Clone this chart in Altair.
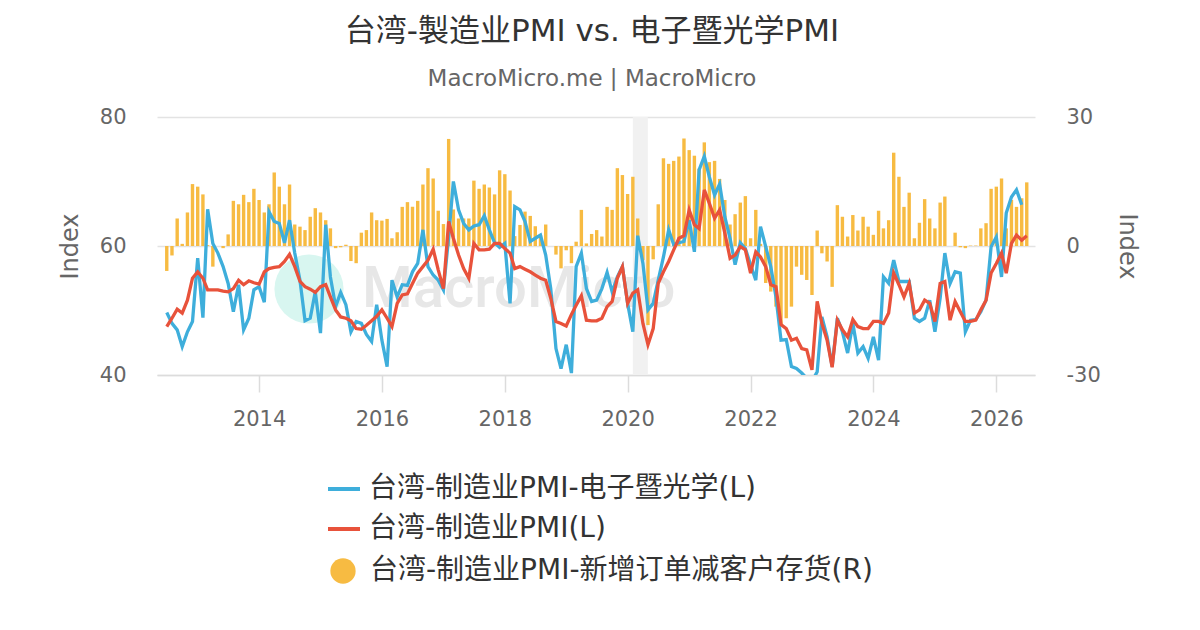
import altair as alt
import pandas as pd

# ---------------- data ----------------
start_month = "2012-07-01"
n_months = 169

electronics = [
    49.7, 48.0, 47.0, 44.4, 46.7, 48.3, 58.1, 48.9, 65.7, 60.4,
    58.9, 56.8, 54.2, 49.8, 54.0, 47.0, 48.8, 53.2, 53.7, 51.3,
    65.3, 63.8, 63.5, 60.5, 64.0, 58.9, 54.7, 48.4, 48.8, 52.9,
    46.5, 63.3, 55.2, 50.6, 52.8, 50.9, 46.7, 48.3, 48.0, 46.3,
    45.2, 50.9, 45.4, 41.3, 54.7, 52.1, 54.0, 53.9, 56.0, 57.3,
    62.5, 56.8, 55.5, 54.7, 53.2, 61.4, 70.0, 65.6, 63.5, 62.5,
    63.1, 63.3, 64.7, 62.5, 60.5, 59.8, 60.4, 51.1, 66.1, 65.6,
    63.8, 60.7, 61.2, 61.7, 58.6, 53.4, 44.1, 41.0, 44.7, 40.3,
    56.8, 58.9, 53.4, 51.4, 51.6, 53.4, 55.9, 52.9, 55.2, 56.8,
    51.1, 46.7, 61.6, 57.3, 50.1, 51.1, 54.7, 58.3, 62.5, 60.2,
    60.5, 60.7, 64.0, 59.1, 71.8, 73.9, 70.7, 67.9, 69.6, 64.5,
    61.2, 57.1, 60.5, 59.6, 57.1, 54.7, 63.0, 59.9, 56.8, 52.1,
    45.4, 45.5, 41.3, 41.0, 40.3, 39.5, 39.0, 40.5, 49.0, 45.9,
    41.3, 48.8, 46.7, 43.4, 48.0, 43.4, 44.4, 42.6, 45.9, 42.3,
    55.2, 54.2, 57.8, 54.5, 54.5, 54.5, 48.8, 48.3, 48.8, 51.6,
    46.7, 51.9, 58.9, 54.2, 56.0, 55.8, 46.7, 48.5, 48.6, 49.8,
    51.6, 59.9, 61.4, 55.2, 65.1, 67.6, 68.7, 66.4,
]

manufacturing = [
    47.5, 48.8, 50.2, 49.6, 51.6, 55.0, 56.0, 55.0, 53.2, 53.2,
    53.2, 53.0, 52.9, 53.4, 54.7, 54.0, 54.6, 54.3, 54.1, 56.0,
    56.5, 56.7, 56.8, 57.6, 58.7, 56.8, 54.5, 53.7, 53.3, 52.8,
    53.7, 54.0, 52.1, 50.1, 49.0, 48.8, 48.4, 47.2, 47.1, 47.7,
    48.4, 49.1, 50.1, 48.8, 47.5, 51.1, 52.4, 52.6, 54.2, 55.8,
    56.8, 57.8, 59.5, 56.3, 53.4, 63.8, 61.2, 58.6, 56.5, 55.0,
    60.4, 59.4, 59.4, 59.5, 60.4, 60.4, 59.6, 58.9, 56.5, 56.8,
    56.4, 56.0, 55.5, 55.0, 54.7, 51.9, 48.3, 48.0, 47.6, 49.4,
    50.8, 52.3, 48.5, 48.4, 48.4, 48.8, 50.6, 51.4, 55.0, 56.8,
    51.1, 52.7, 53.2, 48.0, 44.7, 47.2, 54.2, 56.0, 57.6, 59.4,
    61.2, 61.6, 65.6, 63.3, 62.7, 68.7, 66.6, 64.3, 65.6, 62.0,
    58.1, 58.6, 59.9, 59.4, 55.8, 59.1, 58.3, 56.8, 54.0, 53.7,
    47.8, 47.2, 45.4, 45.7, 44.1, 43.9, 40.8, 51.4, 48.0, 45.4,
    41.2, 48.5, 47.0, 45.9, 48.6, 47.5, 47.2, 47.2, 48.3, 48.3,
    48.0, 49.6, 55.8, 54.0, 52.1, 54.2, 49.6, 50.1, 51.6, 51.1,
    48.3, 54.2, 54.5, 48.5, 51.4, 49.8, 48.3, 48.3, 48.5, 50.1,
    51.6, 55.8, 57.3, 58.9, 55.8, 60.4, 61.7, 60.9, 61.6,
]

orders_minus_inventory = [
    -5.8, -2.2, 6.4, 0.5, 7.8, 14.4, 13.8, 12.0, 0.2, -4.8,
    0.0, -0.5, 2.7, 10.5, 9.7, 11.9, 10.2, 13.3, 10.7, 7.8,
    9.7, 17.1, 13.8, 9.7, 14.3, 5.0, 4.5, 3.7, 6.8, 8.8,
    7.8, 6.0, 4.1, -0.5, -0.3, 0.3, -3.5, -4.0, 3.1, 3.7,
    7.8, 6.0, 5.9, 6.3, 1.8, 3.2, 9.1, 10.2, 9.1, 10.5,
    14.3, 18.1, 15.7, 8.2, 5.1, 24.9, 8.5, 6.4, 6.4, 6.4,
    15.2, 13.3, 14.3, 13.6, 12.0, 17.6, 16.7, 12.9, 2.3, 4.9,
    8.0, 7.0, 4.6, 2.5, 5.0, 0.0, -2.0, -5.2, -1.0, -4.0,
    1.0, 8.4, 0.6, 2.8, 3.7, 2.2, 9.1, 8.4, 18.1, 16.5,
    12.1, 16.1, 6.4, -3.3, -18.4, -3.1, 9.7, 20.4, 19.1, 19.8,
    20.8, 25.0, 22.3, 21.0, 18.0, 24.1, 19.5, 19.8, 15.6, 10.7,
    5.0, 7.4, 10.1, 11.6, 1.8, 8.4, 0.5, -8.6, -10.6, -14.1,
    -18.4, -16.8, -14.1, -4.8, -6.7, -7.9, -11.4, 3.6, -1.7, -3.6,
    -9.5, 9.5, 6.8, 2.2, 7.2, 3.6, 6.8, 4.5, 2.6, 8.2,
    4.1, 6.0, 21.7, 16.1, 9.1, 12.4, 1.8, 5.4, 10.9, 6.4,
    4.1, 10.1, 11.5, 0.0, 3.1, -0.3, -0.5, 0.1, 0.1, 4.1,
    5.3, 13.3, 13.8, 15.7, 4.1, 10.7, 9.1, 11.1, 14.8,
]

band_start = ["2020-02-01"]
band_end = ["2020-04-30"]

left_ticks = [40, 60, 80]
right_ticks = [-30, 0, 30]
year_ticks = [2014, 2016, 2018, 2020, 2022, 2024, 2026]

NAME_E = "台湾-制造业PMI-电子暨光学(L)"
NAME_M = "台湾-制造业PMI(L)"
NAME_B = "台湾-制造业PMI-新增订单减客户存货(R)"

BLUE = "#3eaedb"
RED = "#e8523b"
ORANGE = "#f7bb42"
FONT = "'DejaVu Sans', 'Noto Sans CJK SC', sans-serif"

# ---------------- tables ----------------
months = pd.date_range(start_month, periods=n_months, freq="MS")
elec_df = pd.DataFrame({"date": months[:len(electronics)], "value": electronics, "series": NAME_E})
manu_df = pd.DataFrame({"date": months[:len(manufacturing)], "value": manufacturing, "series": NAME_M})
bars_df = pd.DataFrame({"date": months[:len(orders_minus_inventory)], "value": orders_minus_inventory, "series": NAME_B})
band_df = pd.DataFrame({"start": pd.to_datetime(band_start), "end": pd.to_datetime(band_end)})
wm_df = pd.DataFrame({"t": ["MacroMicro"]})

W, H = 878, 258

x_scale = alt.Scale(domain=[alt.DateTime(year=2012, month=5, date=4),
                            alt.DateTime(year=2026, month=8, date=19)],
                    padding=0, nice=False)
x_axis = alt.Axis(
    title=None, format="%Y", grid=False,
    values=[alt.DateTime(year=y, month=1, date=1) for y in year_ticks],
    tickSize=17, tickColor="#dcdcdc", tickWidth=1.5,
    domainColor="#dcdcdc", domainWidth=1.5,
    labelFontSize=21, labelColor="#666666", labelPadding=16,
)

band = alt.Chart(band_df).mark_rect(color="#f1f1f1").encode(
    x=alt.X("start:T", scale=x_scale, axis=x_axis),
    x2="end:T",
)

wm_circle = alt.Chart(wm_df).mark_point(filled=True, size=4780, color="#d8f6f0", opacity=1).encode(
    x=alt.value(152), y=alt.value(172)
)
wm_text = alt.Chart(wm_df).mark_text(
    font="Roboto", fontSize=58, fontWeight=500, color="#e7e7e7", align="left", baseline="middle"
).encode(x=alt.value(205), y=alt.value(173), text="t:N")

bars = alt.Chart(bars_df).mark_bar(size=3.4).encode(
    x=alt.X("date:T", scale=x_scale, axis=x_axis),
    y=alt.Y("value:Q", scale=alt.Scale(domain=[-30, 30], nice=False, zero=False),
            axis=alt.Axis(orient="right", values=right_ticks, title="Index", grid=False,
                          domain=False, ticks=False, labelPadding=31,
                          labelExpr="datum.value + ''",
                          labelFontSize=21, labelColor="#666666",
                          titleFontSize=24, titleColor="#666666", titleFontWeight="normal",
                          titlePadding=14)),
    color=alt.Color("series:N", scale=alt.Scale(domain=[NAME_B], range=[ORANGE]),
                    legend=alt.Legend(orient="none", legendX=172, legendY=440, title=None,
                                      symbolType="circle", symbolSize=640, symbolStrokeWidth=0,
                                      symbolOpacity=1, labelFontSize=28, labelColor="#333333",
                                      labelOffset=13, labelLimit=800, padding=0)),
)

y_left = alt.Y("value:Q", scale=alt.Scale(domain=[40, 80], nice=False, zero=False),
               axis=alt.Axis(orient="left", values=left_ticks, title="Index", grid=True,
                             gridColor="#e3e3e3", gridWidth=1.5,
                             domain=False, ticks=False, labelPadding=31,
                             labelFontSize=21, labelColor="#666666",
                             titleFontSize=24, titleColor="#666666", titleFontWeight="normal",
                             titlePadding=17))
line_color = alt.Color("series:N", scale=alt.Scale(domain=[NAME_E, NAME_M], range=[BLUE, RED]),
                       legend=alt.Legend(orient="none", legendX=169, legendY=354, title=None,
                                         symbolType="stroke", symbolSize=1024, symbolStrokeWidth=4,
                                         labelFontSize=28, labelColor="#333333", labelOffset=7,
                                         rowPadding=8, labelLimit=800, padding=0))

elec_line = alt.Chart(elec_df).mark_line(strokeWidth=3.3, clip=True).encode(
    x=alt.X("date:T", scale=x_scale, axis=x_axis), y=y_left, color=line_color
)
manu_line = alt.Chart(manu_df).mark_line(strokeWidth=3.3, clip=True).encode(
    x=alt.X("date:T", scale=x_scale, axis=x_axis), y=y_left, color=line_color
)
lines = alt.layer(elec_line, manu_line)

chart = alt.layer(band, wm_circle, wm_text, bars, lines).resolve_scale(
    y="independent", color="independent"
).properties(
    width=W, height=H,
    padding={"left": 149, "top": 109, "right": 150, "bottom": 236},
    autosize=alt.AutoSizeParams(type="none"),
    title=alt.TitleParams(
        text="台湾-製造业PMI vs. 电子暨光学PMI",
        subtitle="MacroMicro.me | MacroMicro",
        fontSize=31, fontWeight="normal", color="#333333",
        subtitleFontSize=23, subtitleColor="#666666", subtitlePadding=20,
        anchor="middle", offset=14, dx=-4,
    ),
).configure(font=FONT).configure_view(stroke=None)

chart.save("out.html", embed_options={"renderer": "svg", "actions": False})
